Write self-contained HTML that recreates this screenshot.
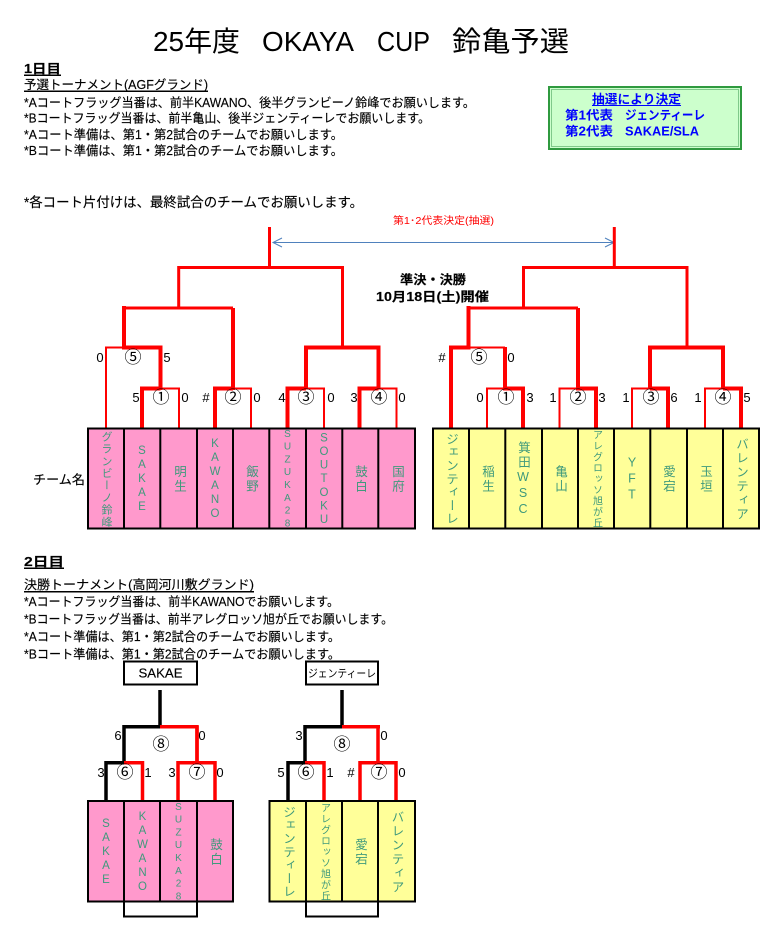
<!DOCTYPE html>
<html lang="ja"><head><meta charset="utf-8"><title>25年度 OKAYA CUP 鈴亀予選</title>
<style>
html,body{margin:0;padding:0;background:#fff}
svg{display:block}
text{font-family:"Liberation Sans","Noto Sans CJK JP",sans-serif;fill:#000}
.l{font-size:12.5px;stroke:#000;stroke-width:.15px}
.b{font-weight:bold}
.n{font-size:13px;text-anchor:middle}
.c{font-size:17px;text-anchor:middle}
.v{fill:#3f9a7c;text-anchor:middle;writing-mode:vertical-rl;text-orientation:upright}
.k{font-size:12.5px;letter-spacing:2px}
.s{font-size:11.5px;letter-spacing:2px}
.x{font-size:10px;letter-spacing:2px}
</style></head><body>
<svg width="771" height="948" viewBox="0 0 771 948" xmlns="http://www.w3.org/2000/svg">
<g font-size="28">
<text x="153" y="51" textLength="87" lengthAdjust="spacingAndGlyphs">25年度</text>
<text x="262" y="51" textLength="92" lengthAdjust="spacingAndGlyphs">OKAYA</text>
<text x="377" y="51" textLength="53" lengthAdjust="spacingAndGlyphs">CUP</text>
<text x="452" y="51" textLength="117" lengthAdjust="spacingAndGlyphs">鈴亀予選</text>
</g>
<text x="24" y="73" class="l b" textLength="37" lengthAdjust="spacingAndGlyphs">1日目</text>
<rect x="24" y="74.5" width="37" height="1.5"/>
<text x="24" y="89" class="l" textLength="184" lengthAdjust="spacingAndGlyphs">予選トーナメント(AGFグランド)</text>
<rect x="24" y="90.5" width="184" height="1.5"/>
<text x="24" y="107" class="l" textLength="451" lengthAdjust="spacingAndGlyphs">*Aコートフラッグ当番は、前半KAWANO、後半グランビーノ鈴峰でお願いします。</text>
<text x="24" y="122.5" class="l" textLength="406" lengthAdjust="spacingAndGlyphs">*Bコートフラッグ当番は、前半亀山、後半ジェンティーレでお願いします。</text>
<text x="24" y="139" class="l" textLength="319" lengthAdjust="spacingAndGlyphs">*Aコート準備は、第1・第2試合のチームでお願いします。</text>
<text x="24" y="155" class="l" textLength="319" lengthAdjust="spacingAndGlyphs">*Bコート準備は、第1・第2試合のチームでお願いします。</text>
<text x="24" y="207" class="l" style="font-size:13.5px" textLength="339" lengthAdjust="spacingAndGlyphs">*各コート片付けは、最終試合のチームでお願いします。</text>
<text x="393" y="224" style="fill:#f00" font-size="10" textLength="101" lengthAdjust="spacingAndGlyphs">第1･2代表決定(抽選)</text>

<rect x="549" y="87" width="192" height="62" fill="#ccffcc" stroke="#2f9a3f" stroke-width="2"/>
<rect x="551.5" y="89.5" width="187" height="57" fill="none" stroke="#7fc98a" stroke-width="1"/>
<text x="592" y="103.5" class="l b" style="fill:#00f;stroke:none" textLength="89" lengthAdjust="spacingAndGlyphs">抽選により決定</text>
<rect x="592" y="105" width="89" height="1" fill="#00f"/>
<text x="565" y="119.5" class="l b" style="fill:#00f;stroke:none" textLength="48" lengthAdjust="spacingAndGlyphs">第1代表</text>
<text x="625" y="119.5" class="l b" style="fill:#00f;stroke:none" textLength="80" lengthAdjust="spacingAndGlyphs">ジェンティーレ</text>
<text x="565" y="135.5" class="l b" style="fill:#00f;stroke:none" textLength="48" lengthAdjust="spacingAndGlyphs">第2代表</text>
<text x="625" y="135.5" class="l b" style="fill:#00f;stroke:none" textLength="74" lengthAdjust="spacingAndGlyphs">SAKAE/SLA</text>

<!-- arrow -->
<g stroke="#4f81bd" fill="none" stroke-width="1">
<path d="M273 242.5H614"/><path d="M282 238L273 242.5L282 247"/><path d="M605 238L614 242.5L605 247"/>
</g>
<text x="400" y="284" class="l b" textLength="66" lengthAdjust="spacingAndGlyphs">準決・決勝</text>
<text x="376" y="301" class="l b" textLength="113" lengthAdjust="spacingAndGlyphs">10月18日(土)開催</text>

<!-- day 1 brackets -->
<g style="stroke:#f00;fill:none;stroke-width:3">
<path d="M269.5 227V267.5"/><path d="M178.7 308V267.5H342.5V347"/>
<path d="M123 308H233"/>
<path d="M614.3 227V267.5"/><path d="M523.5 308V267.5H687V347"/>
<path d="M467 308H578"/>
</g>
<g style="stroke:#f00;fill:none;stroke-width:4">
<path d="M124 306V347.5H160.5V390"/>
<path d="M233 308V390"/>
<path d="M142 428V388.5H160.5"/><path d="M215 428V388.5H233"/>
<path d="M306 388V347.5H378.5V388"/>
<path d="M287.5 428V388.5H306"/><path d="M359.5 428V388.5H378.5"/>
<path d="M468.5 306V347.5H451V428"/>
<path d="M505 347V388.5H523V428"/>
<path d="M578 308V388.5H596V428"/>
<path d="M650 388V347.5H723V388"/>
<path d="M650 388.5H668V428"/><path d="M723 388.5H741V428"/>
</g>
<g style="stroke:#f00;fill:none;stroke-width:2">
<path d="M106 428V347.5H124"/>
<path d="M160 388.5H179V428"/><path d="M233 388.5H251V428"/>
<path d="M306 388.5H324V428"/><path d="M378 388.5H396.5V428"/>
<path d="M469 347.5H505"/>
<path d="M487 428V388.5H505"/><path d="M559.5 428V388.5H578"/>
<path d="M632 428V388.5H650"/><path d="M705 428V388.5H723"/>
</g>

<!-- scores -->
<text class="n" x="100" y="362">0</text><text class="c" x="133" y="363">⑤</text><text class="n" x="167" y="362">5</text>
<text class="n" x="136" y="402">5</text><text class="c" x="161" y="403">①</text><text class="n" x="185" y="402">0</text>
<text class="n" x="206" y="402">#</text><text class="c" x="233" y="403">②</text><text class="n" x="257" y="402">0</text>
<text class="n" x="282" y="402">4</text><text class="c" x="306" y="403">③</text><text class="n" x="331" y="402">0</text>
<text class="n" x="354" y="402">3</text><text class="c" x="379" y="403">④</text><text class="n" x="402" y="402">0</text>
<text class="n" x="442" y="362">#</text><text class="c" x="479" y="363">⑤</text><text class="n" x="511" y="362">0</text>
<text class="n" x="480" y="402">0</text><text class="c" x="506" y="403">①</text><text class="n" x="530" y="402">3</text>
<text class="n" x="553" y="402">1</text><text class="c" x="578" y="403">②</text><text class="n" x="602" y="402">3</text>
<text class="n" x="626" y="402">1</text><text class="c" x="651" y="403">③</text><text class="n" x="674" y="402">6</text>
<text class="n" x="698" y="402">1</text><text class="c" x="723" y="403">④</text><text class="n" x="747" y="402">5</text>

<!-- team tables day 1 -->
<rect x="88" y="428.5" width="327" height="100" fill="#ff99cc" stroke="#000" stroke-width="2"/>
<path d="M124 428V529M160.3 428V529M197 428V529M233 428V529M269.3 428V529M306 428V529M342.3 428V529M378.3 428V529" stroke="#000" stroke-width="2"/>
<rect x="433" y="428.5" width="326" height="100" fill="#ffff99" stroke="#000" stroke-width="2"/>
<path d="M469 428V529M505.3 428V529M542 428V529M578 428V529M614 428V529M650.3 428V529M687 428V529M723 428V529" stroke="#000" stroke-width="2"/>

<text x="33" y="484" class="l" textLength="52" lengthAdjust="spacingAndGlyphs">チーム名</text>

<text class="v" x="106" y="479.5" style="font-size:11px;letter-spacing:1.2px">グランビーノ鈴峰</text>
<text class="v s" x="142" y="480">SAKAE</text>
<text class="v k" x="179" y="479.5">明生</text>
<text class="v s" x="215" y="480">KAWANO</text>
<text class="v k" x="251" y="479.5">飯野</text>
<text class="v x" x="287.5" y="480" style="letter-spacing:1.8px">SUZUKA28</text>
<text class="v s" x="324" y="480" style="letter-spacing:1.6px">SOUTOKU</text>
<text class="v k" x="360" y="479.5">鼓白</text>
<text class="v k" x="397" y="479.5">国府</text>

<text class="v" x="451" y="479" style="font-size:12.5px;letter-spacing:.8px">ジェンティーレ</text>
<text class="v k" x="487" y="479.5">稲生</text>
<text class="v k" x="523" y="479.5">箕田WSC</text>
<text class="v k" x="560" y="479.5">亀山</text>
<text class="v" x="596" y="479" style="font-size:10px;letter-spacing:1px">アレグロッソ旭が丘</text>
<text class="v k" x="632" y="479.5">YFT</text>
<text class="v k" x="668" y="479.5">愛宕</text>
<text class="v k" x="705" y="479.5">玉垣</text>
<text class="v" x="741" y="479.5" style="font-size:12.5px;letter-spacing:1.5px">バレンティア</text>

<!-- day 2 text -->
<text x="24" y="566" class="l b" textLength="40" lengthAdjust="spacingAndGlyphs">2日目</text>
<rect x="24" y="567.5" width="40" height="1.5"/>
<text x="24" y="589" class="l" textLength="230" lengthAdjust="spacingAndGlyphs">決勝トーナメント(高岡河川敷グランド)</text>
<rect x="24" y="591" width="230" height="1.5"/>
<text x="24" y="606" class="l" textLength="315" lengthAdjust="spacingAndGlyphs">*Aコートフラッグ当番は、前半KAWANOでお願いします。</text>
<text x="24" y="623.5" class="l" textLength="369" lengthAdjust="spacingAndGlyphs">*Bコートフラッグ当番は、前半アレグロッソ旭が丘でお願いします。</text>
<text x="24" y="641" class="l" textLength="316" lengthAdjust="spacingAndGlyphs">*Aコート準備は、第1・第2試合のチームでお願いします。</text>
<text x="24" y="658.5" class="l" textLength="316" lengthAdjust="spacingAndGlyphs">*Bコート準備は、第1・第2試合のチームでお願いします。</text>

<rect x="124" y="661.5" width="73" height="23" fill="#fff" stroke="#000" stroke-width="2"/>
<text x="138.5" y="677.5" class="l" textLength="44" lengthAdjust="spacingAndGlyphs">SAKAE</text>
<rect x="306" y="661.5" width="72" height="23" fill="#fff" stroke="#000" stroke-width="2"/>
<text x="308" y="677" font-size="11" textLength="68" lengthAdjust="spacingAndGlyphs">ジェンティーレ</text>

<!-- day 2 brackets -->
<g style="stroke:#000;fill:none;stroke-width:3.5">
<path d="M160 690V726.7H124V762.7H106V801"/>
<path d="M342 690V726.7H305V762.7H288V801"/>
</g>
<g style="stroke:#f00;fill:none;stroke-width:3.5">
<path d="M160 726.7H197V762.7"/>
<path d="M124 762.7H142.5V801"/>
<path d="M178 801V762.7H215V801"/>
<path d="M197 726V763"/>
<path d="M342 726.7H380"/><path d="M378 726.7V762.7"/>
<path d="M305 762.7H324V801"/>
<path d="M360 801V762.7H396V801"/>
</g>
<text class="n" x="118" y="740">6</text><text class="n" x="202" y="740">0</text><text class="c" x="161" y="750">⑧</text>
<text class="n" x="101" y="777">3</text><text class="c" x="125" y="778">⑥</text><text class="n" x="148" y="777">1</text>
<text class="n" x="172" y="777">3</text><text class="c" x="197" y="778">⑦</text><text class="n" x="220" y="777">0</text>
<text class="n" x="299" y="740">3</text><text class="n" x="384" y="740">0</text><text class="c" x="342" y="750">⑧</text>
<text class="n" x="281" y="777">5</text><text class="c" x="306" y="778">⑥</text><text class="n" x="330" y="777">1</text>
<text class="n" x="351" y="777">#</text><text class="c" x="379" y="778">⑦</text><text class="n" x="402" y="777">0</text>

<path d="M124 901V916.5H197V901M306 901V916.5H378V901" fill="none" stroke="#000" stroke-width="2"/>
<rect x="88" y="801" width="145" height="100.5" fill="#ff99cc" stroke="#000" stroke-width="2"/>
<path d="M124 801V902M160 801V902M197 801V902" stroke="#000" stroke-width="2"/>
<rect x="269.5" y="801" width="145.5" height="100.5" fill="#ffff99" stroke="#000" stroke-width="2"/>
<path d="M306 801V902M342 801V902M378 801V902" stroke="#000" stroke-width="2"/>

<text class="v s" x="106" y="853">SAKAE</text>
<text class="v s" x="142.5" y="853">KAWANO</text>
<text class="v x" x="178.5" y="853" style="letter-spacing:1.8px">SUZUKA28</text>
<text class="v k" x="215" y="852.5">鼓白</text>
<text class="v" x="288" y="852" style="font-size:12.5px;letter-spacing:.8px">ジェンティーレ</text>
<text class="v" x="324" y="852" style="font-size:10px;letter-spacing:1px">アレグロッソ旭が丘</text>
<text class="v k" x="360" y="852.5">愛宕</text>
<text class="v" x="396.5" y="852.5" style="font-size:12.5px;letter-spacing:1.5px">バレンティア</text>
</svg>
</body></html>
